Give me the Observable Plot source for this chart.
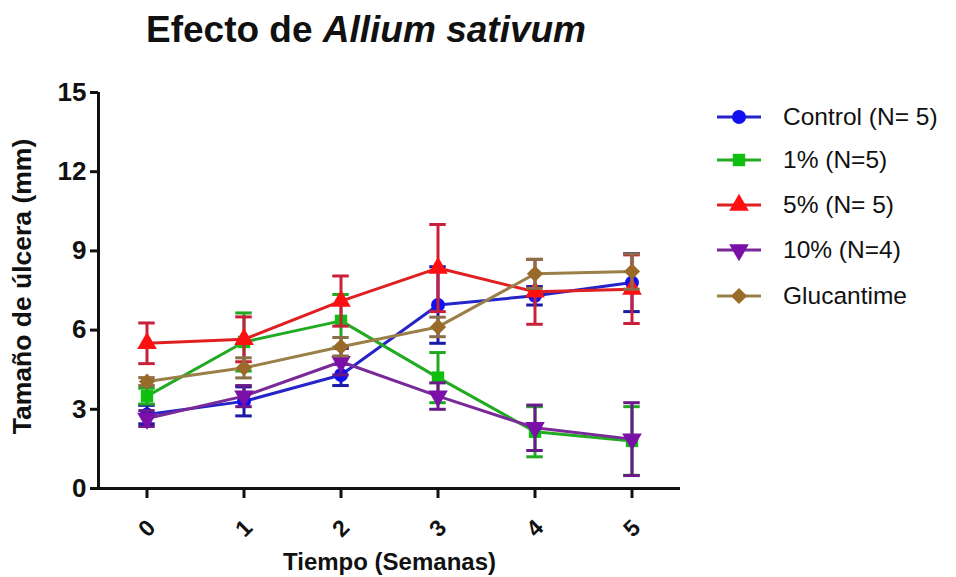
<!DOCTYPE html>
<html><head><meta charset="utf-8">
<script src="https://cdn.jsdelivr.net/npm/d3@7"></script>
<script src="https://cdn.jsdelivr.net/npm/@observablehq/plot@0.6"></script>
<style>
body{margin:0;background:#fff;font-family:"Liberation Sans",Arial,sans-serif;}
#wrap{position:relative;width:956px;height:577px;overflow:hidden;background:#fff;}
#title{height:60px;line-height:60px;font-size:37px;font-weight:bold;width:732px;text-align:center;color:#111;white-space:nowrap;}
#chart svg{display:block;}
.lg{position:absolute;left:716px;height:30px;display:flex;align-items:center;font-size:24.5px;color:#111;white-space:nowrap;}
.lg svg{margin-right:21px;}
</style></head><body>
<div id="wrap"><div id="title">Efecto de <i>Allium sativum</i></div><div id="chart"></div><div id="legend"></div></div>
<script>
const weeks = [0, 1, 2, 3, 4, 5];
const seriesNames = ["Control (N= 5)", "1% (N=5)", "5% (N= 5)", "10% (N=4)", "Glucantime"];
const controlMean = [2.8, 3.3, 4.3, 6.95, 7.3, 7.8];
const controlSem  = [0.35, 0.55, 0.4, 1.45, 0.35, 1.1];
const pct1Mean = [3.5, 5.55, 6.35, 4.2, 2.15, 1.8];
const pct1Sem  = [0.3, 1.1, 1.0, 0.95, 0.95, 1.3];
const pct5Mean = [5.5, 5.65, 7.1, 8.35, 7.45, 7.55];
const pct5Sem  = [0.77, 0.85, 0.95, 1.65, 1.23, 1.3];
const pct10Mean = [2.65, 3.5, 4.8, 3.5, 2.3, 1.87];
const pct10Sem  = [0.3, 0.4, 0.5, 0.5, 0.86, 1.38];
const glucMean = [4.05, 4.57, 5.37, 6.12, 8.13, 8.22];
const glucSem  = [0.15, 0.38, 0.35, 0.37, 0.55, 0.67];
const yTicks = [0, 3, 6, 9, 12, 15];
const xTickLabels = ["0", "1", "2", "3", "4", "5"];
const yLabel = "Tamaño de úlcera (mm)";
const xLabel = "Tiempo (Semanas)";

const lineColors   = ["#2424c8", "#22aa22", "#e02020", "#7a2a98", "#9a8048"];
const markerColors = ["#1010f0", "#10c010", "#ff1010", "#7a10a8", "#9a6a2a"];
const errColors    = ["#1a1aa8", "#22a822", "#c8203a", "#6a1a88", "#8a7048"];

const sqrt3 = Math.sqrt(3);
const triangleDown = {draw(context, size) {
  const y = -Math.sqrt(size / (sqrt3 * 3));
  context.moveTo(0, -y * 2);
  context.lineTo(-sqrt3 * y, y);
  context.lineTo(sqrt3 * y, y);
  context.closePath();
}};
const symbols = ["circle", "square", "triangle", triangleDown, "diamond2"];
const radii = [7, 7, 7.3, 7.3, 7.3];
const d3symbols = [d3.symbolCircle, d3.symbolSquare, d3.symbolTriangle, triangleDown, d3.symbolDiamond2];

const means = [controlMean, pct1Mean, pct5Mean, pct10Mean, glucMean];
const sems = [controlSem, pct1Sem, pct5Sem, pct10Sem, glucSem];
const series = seriesNames.map((name, i) => weeks.map((w, j) => ({name, week: w, mean: means[i][j], sem: sems[i][j]})));

const cap = 0.085;
const marks = [];
series.forEach((data, i) => {
  marks.push(
    Plot.line(data, {x: "week", y: "mean", stroke: lineColors[i], strokeWidth: 3}),
    Plot.ruleX(data, {x: "week", y1: d => d.mean - d.sem, y2: d => d.mean + d.sem, stroke: errColors[i], strokeWidth: 3}),
    Plot.ruleY(data, {y: d => d.mean + d.sem, x1: d => d.week - cap, x2: d => d.week + cap, stroke: errColors[i], strokeWidth: 3}),
    Plot.ruleY(data, {y: d => d.mean - d.sem, x1: d => d.week - cap, x2: d => d.week + cap, stroke: errColors[i], strokeWidth: 3}),
    Plot.dot(data, {x: "week", y: "mean", symbol: symbols[i], r: radii[i], fill: markerColors[i], stroke: "none"})
  );
});

const chart = Plot.plot({
  width: 956, height: 517,
  marginLeft: 98, marginRight: 276, marginTop: 32, marginBottom: 89,
  style: {fontFamily: "'Liberation Sans', Arial, sans-serif", fontWeight: "bold", color: "#111", background: "#fff"},
  x: {domain: [-0.5, 5.5]},
  y: {domain: [0, 15]},
  marks: [
    Plot.axisY({ticks: yTicks, tickSize: 8, tickPadding: 4, strokeWidth: 3, fontSize: 26, label: null, stroke: "#111"}),
    Plot.axisX({ticks: weeks, tickSize: 10, strokeWidth: 3, tickFormat: () => "", label: null, stroke: "#111"}),
    Plot.text(weeks, {x: d => d, y: 0, text: (d, i) => xTickLabels[i], dy: 40, rotate: -45, fontSize: 23, fill: "#111"}),
    Plot.text([yLabel], {frameAnchor: "left", textAnchor: "middle", lineAnchor: "middle", dx: -76, dy: -4, rotate: -90, fontSize: 26.5, fill: "#111"}),
    Plot.text([xLabel], {frameAnchor: "bottom", textAnchor: "middle", lineAnchor: "middle", dy: 74, fontSize: 24, fill: "#111"}),
    ...marks,
    Plot.ruleY([0], {stroke: "#111", strokeWidth: 3}),
    Plot.ruleX([-0.5], {y1: 0, y2: 15, stroke: "#111", strokeWidth: 3})
  ]
});
document.getElementById("chart").appendChild(chart);

const rowCenters = [117, 160, 205, 250, 296];
const legend = document.getElementById("legend");
seriesNames.forEach((name, i) => {
  const row = document.createElement("div");
  row.className = "lg";
  row.style.top = (rowCenters[i] - 15) + "px";
  const path = d3.symbol(d3symbols[i], Math.PI * radii[i] * radii[i])();
  row.innerHTML = `<svg width="46" height="30"><line x1="1" x2="45" y1="15" y2="15" stroke="${lineColors[i]}" stroke-width="3"/><path d="${path}" transform="translate(23,15)" fill="${markerColors[i]}"/></svg><span>${name}</span>`;
  legend.appendChild(row);
});
</script>
</body></html>
